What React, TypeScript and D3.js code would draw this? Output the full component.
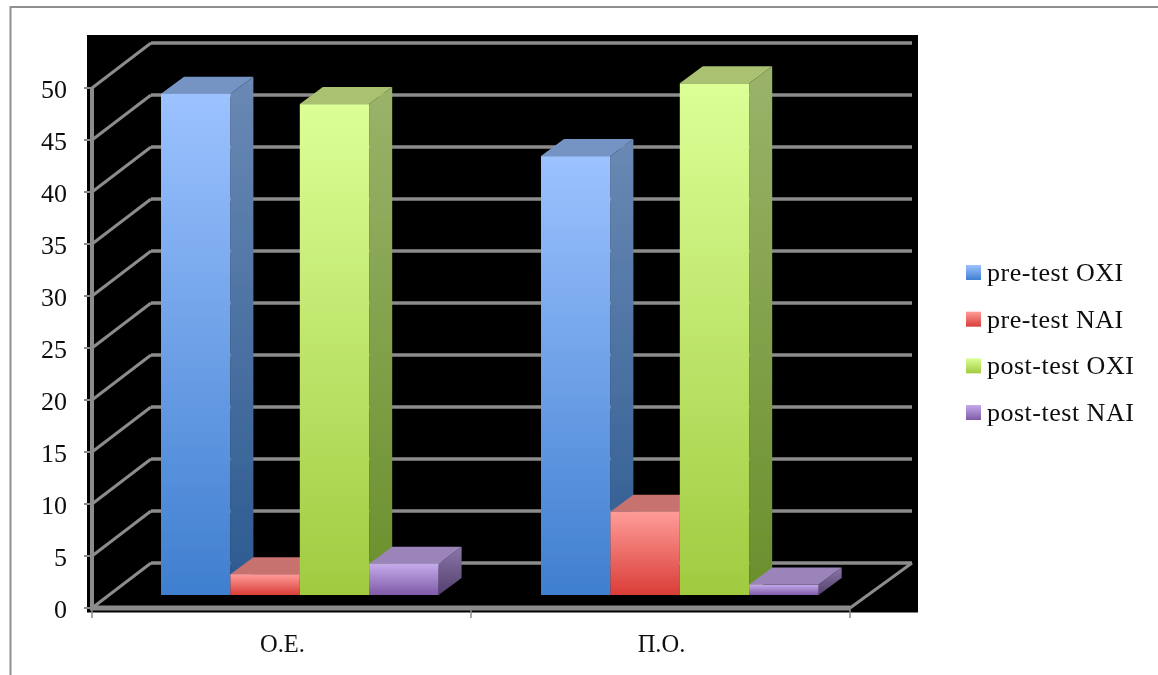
import React from "react";
import * as d3 from "d3";

const categories = ["Ο.Ε.", "Π.Ο."];
const seriesNames = ["pre-test OXI", "pre-test NAI", "post-test OXI", "post-test NAI"];
const preOxi = [48.2, 42.2];
const preNai = [2, 8];
const postOxi = [47.2, 49.2];
const postNai = [3, 1];
const seriesValues = [preOxi, preNai, postOxi, postNai];
const yTicks = [0, 5, 10, 15, 20, 25, 30, 35, 40, 45, 50];

const frontFrom = ["#9cc2ff", "#ff9c98", "#dcff96", "#c6abec"];
const frontTo = ["#3f7fcf", "#da3d38", "#a0cb40", "#7f5aa8"];
const sideFrom = ["#6a89b4", "#b86a68", "#9ab36a", "#8a76a8"];
const sideTo = ["#2c5a90", "#8a2c2a", "#6a8f2c", "#54406e"];
const topColors = ["#7594c4", "#c87270", "#a9c170", "#9a84ba"];

const FONT = "'Liberation Serif', serif";
const GRID = "#8c8c8c";

const W = 1158, H = 675;
const yFront = d3.scaleLinear().domain([0, 50]).range([608, 88]);
const yBack = d3.scaleLinear().domain([0, 50]).range([563, 43]);
const yBar = d3.scaleLinear().domain([0, 50]).range([595, 75]);
const xAxis = d3.scaleBand<string>().domain(categories).range([92, 850]);
const xGroup = d3.scaleBand<string>().domain(categories).range([110, 870]);
const xBar = d3.scaleBand<string>().domain(seriesNames).range([51, 328.6]);
const backDx = 59;
const backRight = 912;
const barDx = 23;
const barDy = 17;
const line = d3.line<[number, number]>();

export default function App() {
  const bw = xBar.bandwidth();
  return (
    <svg width={W} height={H} viewBox={`0 0 ${W} ${H}`}
      style={{ position: "absolute", left: 0, top: 0, background: "#fff" }}>
      <defs>
        {seriesNames.map((_, i) => (
          <React.Fragment key={i}>
            <linearGradient id={`front${i}`} x1="0" y1="0" x2="0" y2="1">
              <stop offset="0" stopColor={frontFrom[i]} />
              <stop offset="1" stopColor={frontTo[i]} />
            </linearGradient>
            <linearGradient id={`side${i}`} x1="0" y1="0" x2="0" y2="1">
              <stop offset="0" stopColor={sideFrom[i]} />
              <stop offset="1" stopColor={sideTo[i]} />
            </linearGradient>
          </React.Fragment>
        ))}
        <filter id="soft" filterUnits="userSpaceOnUse" x={0} y={0} width={W} height={H}>
          <feGaussianBlur stdDeviation={0.45} />
        </filter>
      </defs>

      <g filter="url(#soft)">
        <path d="M1158,7 H10.5 V675" fill="none" stroke="#8f8f8f" strokeWidth={2} />
        <rect x={87} y={35} width={831} height={577.5} fill="#000" />

        {/* back wall gridlines and side wall diagonals */}
        {yTicks.map((t) => (
          <g key={t} fill="none" stroke={GRID}>
            <path strokeWidth={3.5} d={line([[92 + backDx, yBack(t)], [backRight, yBack(t)]])!} />
            <path strokeWidth={3} d={line([[92, yFront(t)], [92 + backDx, yBack(t)]])!} />
          </g>
        ))}
        <path d={line([[850, yFront(0)], [backRight, yBack(0)]])!} fill="none" stroke={GRID} strokeWidth={3} />

        {/* axes */}
        <path d={line([[92, yFront(50)], [92, yFront(0)]])!} stroke={GRID} strokeWidth={4} fill="none" />
        <path d={line([[90, yFront(0)], [850, yFront(0)]])!} stroke={GRID} strokeWidth={5} fill="none" />
        {yTicks.map((t) => (
          <path key={t} d={line([[84, yFront(t)], [92, yFront(t)]])!} stroke={GRID} strokeWidth={2} fill="none" />
        ))}
        {[...categories.map((c) => xAxis(c)!), 850].map((x) => (
          <path key={x} d={line([[x, yFront(0)], [x, 618]])!} stroke={GRID} strokeWidth={1.5} fill="none" />
        ))}

        {/* bars, painted left to right */}
        {categories.map((c, ci) =>
          seriesNames.map((s, si) => {
            const left = xGroup(c)! + xBar(s)!;
            const right = left + bw;
            const top = yBar(seriesValues[si][ci]);
            const bottom = yBar(0);
            return (
              <g key={`${c}-${s}`}>
                <path fill={`url(#side${si})`}
                  d={line([[right, top], [right + barDx, top - barDy], [right + barDx, bottom - barDy], [right, bottom]])! + "Z"} />
                <path fill={topColors[si]}
                  d={line([[left, top], [left + barDx, top - barDy], [right + barDx, top - barDy], [right, top]])! + "Z"} />
                <rect x={left} y={top} width={bw} height={bottom - top} fill={`url(#front${si})`} />
              </g>
            );
          })
        )}

        {/* y labels */}
        <g fontFamily={FONT} fontSize={26} fill="#111" textAnchor="end">
          {yTicks.map((t) => (
            <text key={t} x={67} y={yFront(t) + 9.5}>{t}</text>
          ))}
        </g>
        <g fontFamily={FONT} fontSize={24.5} fill="#111" textAnchor="middle">
          {categories.map((c) => (
            <text key={c} x={xAxis(c)! + xAxis.bandwidth() / 2 + 1} y={652}>{c}</text>
          ))}
        </g>

        {/* legend */}
        {seriesNames.map((s, i) => {
          const ly = d3.scaleLinear().domain([0, 3]).range([265, 405])(i);
          return (
            <g key={s}>
              <rect x={966} y={ly} width={15} height={15} fill={`url(#front${i})`} />
              <text x={987} y={ly + 16} fontFamily={FONT} fontSize={26} letterSpacing={0.5} fill="#111">{s}</text>
            </g>
          );
        })}
      </g>
    </svg>
  );
}
